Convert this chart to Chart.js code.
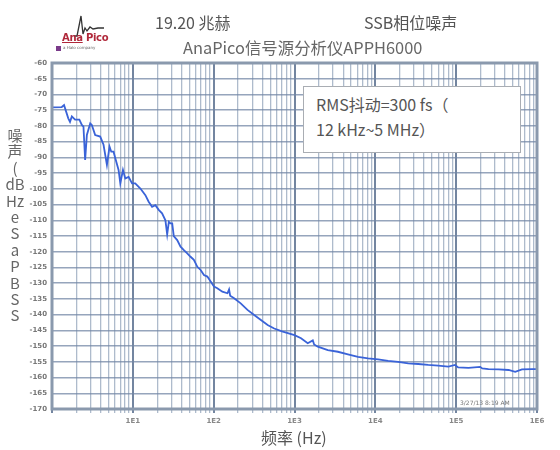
<!DOCTYPE html>
<html>
<head>
<meta charset="utf-8">
<script src="https://cdn.jsdelivr.net/npm/chart.js@4.4.1/dist/chart.umd.min.js"></script>
<style>
    body { margin: 0; background: #fff; }
    #wrap { position: relative; width: 560px; height: 450px; overflow: hidden;
        font-family: "Noto Sans CJK SC", "Noto Sans", sans-serif; color: #555; }
    #wrap canvas { position: absolute; left: 0; top: 0; }
    .txt { position: absolute; white-space: nowrap; }
    #note { position: absolute; left: 303px; top: 86px; width: 218px; height: 67px;
        border: 1.5px solid #a9adb3; background: #fff; box-sizing: border-box; }
    #ytitle { position: absolute; left: 3px; top: 127px; width: 24px; text-align: center;
        font-size: 15px; line-height: 16.4px; color: #666; }
</style>
</head>
<body>
<div id="wrap">
    <canvas id="pnChart" width="560" height="450"></canvas>

    <!-- logo -->
    <svg class="txt" style="left:58px;top:12px" width="50" height="26">
        <path d="M16 24 L19 24 L21 14 L23 4 L25 22 L27 16 L29 19 L32 15 L35 17 L40 16 L46 16"
              fill="none" stroke="#333" stroke-width="1.3"/>
    </svg>
    <div class="txt" style="left:62px;top:32px;font:bold 10px 'DejaVu Sans';color:#b0283a;letter-spacing:-0.3px;">
        <span style="text-decoration:underline">Ana</span>&nbsp;Pico</div>
    <div class="txt" style="left:56px;top:46px;width:5px;height:5px;background:#7a3a8a;"></div>
    <div class="txt" style="left:63px;top:45px;font:4px 'DejaVu Sans';color:#666;">a Halo company</div>

    <div class="txt" style="left:155px;top:10px;font-size:16px;">19.20 兆赫</div>
    <div class="txt" style="left:364px;top:10px;font-size:16px;">SSB相位噪声</div>
    <div class="txt" style="left:183px;top:35px;font-size:16.4px;color:#666;">AnaPico信号源分析仪APPH6000</div>

    <div id="note">
        <div class="txt" style="left:12px;top:5px;font-size:16px;">RMS抖动=300 fs（</div>
        <div class="txt" style="left:12px;top:30px;font-size:16px;">12 kHz~5 MHz）</div>
    </div>

    <div class="txt" style="left:460px;top:399px;font:6px 'DejaVu Sans';color:#777;">3/27/13 8:19 AM</div>

    <div id="ytitle"></div>
    <div class="txt" style="left:261px;top:425px;font-size:16px;">频率 (Hz)</div>
</div>

<script>
// 频率 (Hz) 与 SSB 相位噪声 (dBc/Hz)
const freqHz = [
    1, 1.32, 1.41, 1.59, 1.67, 1.76, 1.93, 2.18, 2.34, 2.45, 2.57, 2.7, 2.97, 3.11,
    3.42, 3.95, 4.34, 4.78, 5.15, 5.41, 5.77, 6.24, 6.66, 7.0, 7.55, 8.07, 8.87, 9.78,
    10.7, 12.4, 14.3, 15.7, 17.3, 19.0, 20.9, 23.0, 25.3, 26.6, 27.9, 29.2, 30.7, 32.1,
    35.4, 38.9, 42.8, 47.1, 51.8, 56.9, 62.8, 69.0, 75.8, 83.5, 91.8, 101, 111, 128,
    148, 155, 160, 179, 216, 262, 317, 384, 465, 561, 700, 1000, 1205, 1458, 1684,
    1750, 1942, 2583, 3440, 4580, 6100, 8120, 10800, 14400, 19100, 25500, 33900,
    45100, 60100, 80000, 96600, 106000, 142000, 198000, 210000, 251000, 334000,
    445000, 538000, 651000, 867000, 1000000
];
const noiseDb = [
    -74.1, -74.0, -73.4, -77.6, -78.7, -77.0, -78.0, -78.0, -79.7, -80.2, -90.8, -82.9, -79.2, -79.7,
    -82.9, -83.4, -86.0, -92.4, -86.6, -88.2, -88.2, -91.4, -94.0, -98.3, -94.0, -96.7, -96.2, -98.3,
    -98.3, -99.9, -102.0, -104.1, -105.7, -105.2, -106.7, -107.8, -110.0, -114.5, -110.5, -111.0, -111.0, -115.0,
    -116.3, -118.4, -119.5, -120.5, -121.6, -122.6, -124.8, -125.8, -127.4, -127.9, -129.5, -131.1, -131.6, -132.7,
    -133.2, -132.0, -134.0, -134.8, -136.4, -138.5, -140.1, -141.7, -143.3, -144.4, -145.3, -146.5, -147.5, -149.1, -148.2,
    -149.5, -150.2, -151.3, -151.8, -152.6, -153.4, -153.9, -154.2, -154.7, -155.0, -155.5, -155.7,
    -156.0, -156.2, -156.5, -156.0, -156.8, -156.9, -156.6, -157.1, -157.3, -157.4,
    -157.6, -158.2, -157.4, -157.3, -157.3
];

// 坐标轴
const xGridValues = [];
[1, 10, 100, 1000, 10000, 100000].forEach((d) => {
    [1, 2, 3, 4, 5, 6, 7, 8, 9].forEach((m) => xGridValues.push(m * d));
});
xGridValues.push(1000000);
const xTickValues = [10, 100, 1000, 10000, 100000, 1000000];
const xTickLabels = ["1E1", "1E2", "1E3", "1E4", "1E5", "1E6"];
const yMin = -170;
const yMax = -60;
const yStep = 5;

const yTitleLines = ["噪", "声", "(", "dB", "Hz", "e", "S", "a", "P", "B", "S", "S"];
document.getElementById("ytitle").innerHTML = yTitleLines.join("<br>");

const points = freqHz.map((f, i) => ({ x: f, y: noiseDb[i] }));

// 外框
const framePlugin = {
    id: "frame",
    afterDraw(chart) {
        const a = chart.chartArea;
        const ctx = chart.ctx;
        ctx.save();
        ctx.strokeStyle = "#8a99ad";
        ctx.lineWidth = 3;
        ctx.strokeRect(a.left, a.top, a.right - a.left, a.bottom - a.top);
        ctx.restore();
    },
};

const isDecade = (v) => xTickValues.includes(v) || v === 1;

new Chart(document.getElementById("pnChart").getContext("2d"), {
    type: "line",
    data: {
        datasets: [
            {
                data: points,
                borderColor: "#3a63d8",
                borderWidth: 1.8,
                pointRadius: 0,
                tension: 0,
                fill: false,
            },
        ],
    },
    options: {
        responsive: false,
        animation: false,
        layout: { padding: { top: 63, right: 23, left: 0, bottom: 0 } },
        plugins: { legend: { display: false }, tooltip: { enabled: false } },
        scales: {
            x: {
                type: "logarithmic",
                min: 1,
                max: 1000000,
                afterBuildTicks: (s) => {
                    s.ticks = xGridValues.map((v) => ({ value: v }));
                },
                afterFit: (s) => {
                    s.height = 41;
                },
                ticks: {
                    autoSkip: false,
                    maxRotation: 0,
                    padding: 4,
                    color: "#888",
                    font: { size: 7, weight: "bold", family: "DejaVu Sans" },
                    callback: function (value) {
                        const i = xTickValues.indexOf(value);
                        return i >= 0 ? xTickLabels[i] : "";
                    },
                },
                grid: {
                    color: (c) => (c.tick && isDecade(c.tick.value) ? "rgba(100,120,150,0.9)" : "rgba(130,150,176,0.65)"),
                    lineWidth: (c) => (c.tick && isDecade(c.tick.value) ? 2 : 1.3),
                    tickLength: 4,
                },
                border: { display: false },
            },
            y: {
                min: yMin,
                max: yMax,
                afterFit: (s) => {
                    s.width = 52;
                },
                ticks: {
                    stepSize: yStep,
                    padding: 5,
                    color: "#777",
                    font: { size: 7, weight: "bold", family: "DejaVu Sans" },
                },
                grid: {
                    color: "rgba(115,135,165,0.75)",
                    lineWidth: 1.4,
                    drawTicks: false,
                },
                border: { display: false },
            },
        },
    },
    plugins: [framePlugin],
});
</script>
</body>
</html>
